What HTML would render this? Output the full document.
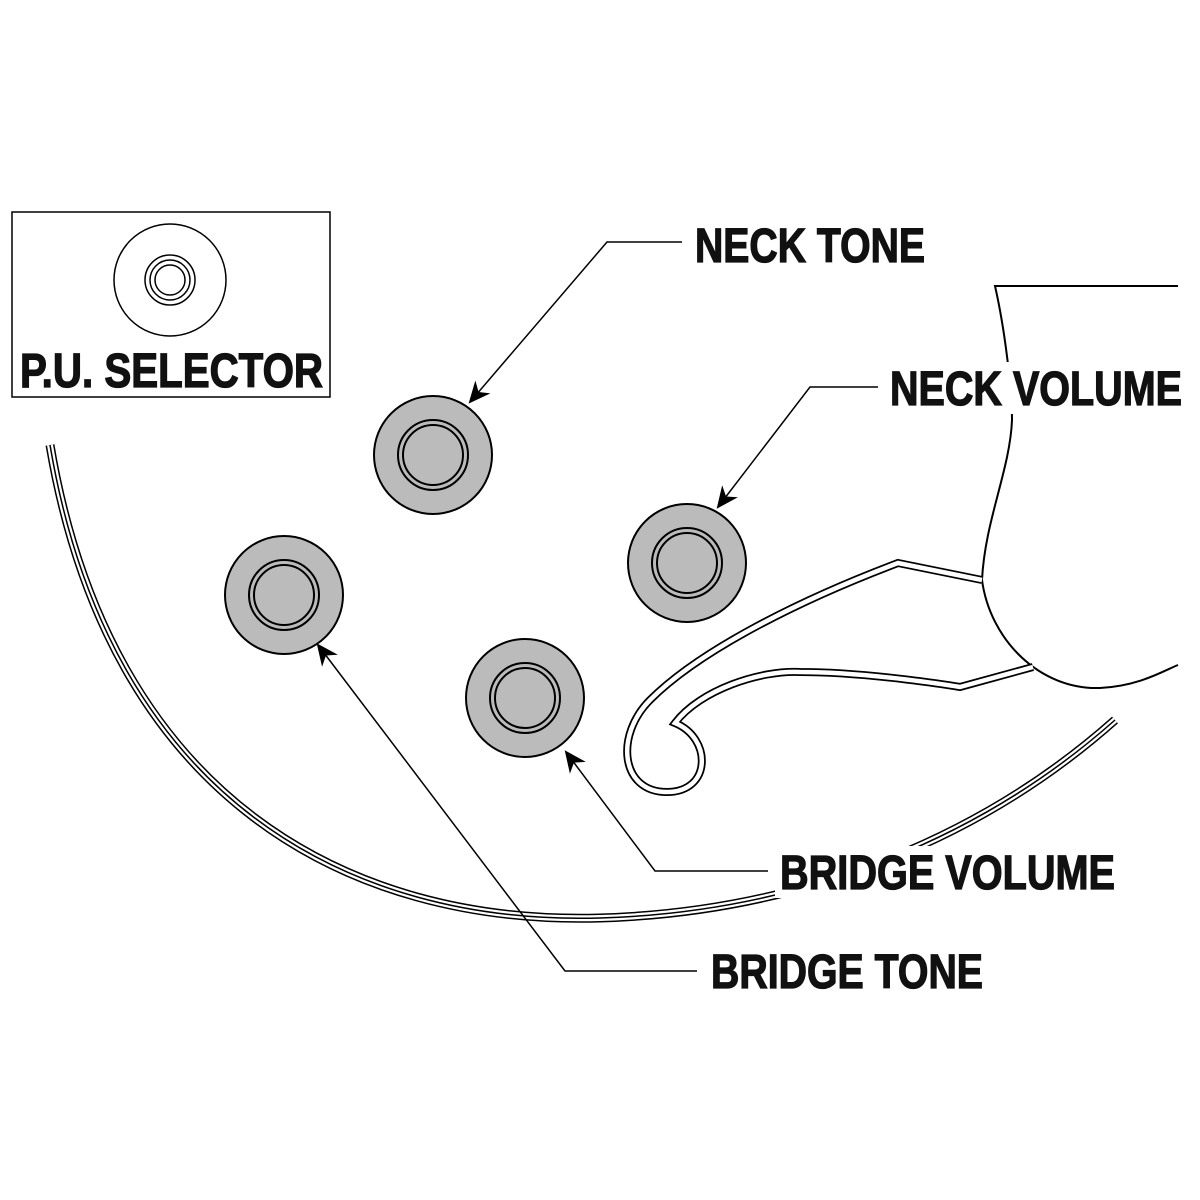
<!DOCTYPE html>
<html><head><meta charset="utf-8"><style>html,body{margin:0;padding:0;background:#fff}svg{display:block}
text{font-family:"Liberation Sans Narrow","Liberation Sans",sans-serif;font-weight:bold;fill:#111;stroke:#111;stroke-width:1.3}</style></head>
<body>
<svg width="1200" height="1200" viewBox="0 0 1200 1200" xmlns="http://www.w3.org/2000/svg">
<defs><marker id="ah" viewBox="0 0 10 10" refX="9" refY="5" markerWidth="22" markerHeight="22" markerUnits="userSpaceOnUse" orient="auto"><path d="M0,0.5 L10,5 L0,9.5 L3,5 Z" fill="#000"/></marker></defs>
<g fill="none">
<path d="M50,445 C110,800 350,925 600,918 C800,912 980,840 1115,720" stroke="#000" stroke-width="9"/>
<path d="M50,445 C110,800 350,925 600,918 C800,912 980,840 1115,720" stroke="#fff" stroke-width="6"/>
<path d="M50,445 C110,800 350,925 600,918 C800,912 980,840 1115,720" stroke="#000" stroke-width="1.5"/>
</g>
<path d="M1178,286 L995,286 C1005,330 1012,390 1012,420 C1010,470 985,520 982,580 C990,640 1040,690 1100,688 C1140,686 1165,670 1178,665" fill="#fff" stroke="#000" stroke-width="2"/>
<g fill="none" stroke-linejoin="miter">
<path d="M982,580 L898,563 C800,600 700,650 650,700 C615,735 620,792 667,792 C712,792 712,738 675,723 C700,690 760,670 800,672 C870,672 960,687 960,687 L1033,667" stroke="#000" stroke-width="8"/>
<path d="M982,580 L898,563 C800,600 700,650 650,700 C615,735 620,792 667,792 C712,792 712,738 675,723 C700,690 760,670 800,672 C870,672 960,687 960,687 L1033,667" stroke="#fff" stroke-width="4.5"/>
</g>
<rect x="12" y="212" width="318" height="185" fill="#fff" stroke="#000" stroke-width="1.5"/>
<g fill="none" stroke="#000" stroke-width="1.5">
<circle cx="170" cy="280" r="56"/><circle cx="170" cy="280" r="25"/><circle cx="170" cy="280" r="20"/><circle cx="170" cy="280" r="15"/>
</g>
<text x="20" y="387" font-size="48" textLength="303" lengthAdjust="spacingAndGlyphs">P.U. SELECTOR</text>
<g stroke="#000" stroke-width="2">
<g transform="translate(433,455)"><circle r="59" fill="#bbb"/><circle r="35" fill="none"/><circle r="30" fill="#bbb"/></g>
<g transform="translate(687,563)"><circle r="59" fill="#bbb"/><circle r="35" fill="none"/><circle r="30" fill="#bbb"/></g>
<g transform="translate(284,595)"><circle r="59" fill="#bbb"/><circle r="35" fill="none"/><circle r="30" fill="#bbb"/></g>
<g transform="translate(525,698)"><circle r="59" fill="#bbb"/><circle r="35" fill="none"/><circle r="30" fill="#bbb"/></g>
</g>
<g fill="none" stroke="#000" stroke-width="1.5" marker-end="url(#ah)">
<path d="M682,242 L607,242 L470,402"/>
<path d="M878,387 L810,387 L718,507"/>
<path d="M768,871 L655,871 L566,752"/>
<path d="M697,971 L565,971 L318,645"/>
</g>
<rect x="885" y="362" width="300" height="52" fill="#fff"/>
<rect x="775" y="846" width="345" height="52" fill="#fff"/>
<text x="695" y="262" font-size="48" textLength="230" lengthAdjust="spacingAndGlyphs">NECK TONE</text>
<text x="890" y="405" font-size="48" textLength="292" lengthAdjust="spacingAndGlyphs">NECK VOLUME</text>
<text x="780" y="889" font-size="48" textLength="335" lengthAdjust="spacingAndGlyphs">BRIDGE VOLUME</text>
<text x="711" y="988" font-size="48" textLength="272" lengthAdjust="spacingAndGlyphs">BRIDGE TONE</text>
</svg>
</body></html>
